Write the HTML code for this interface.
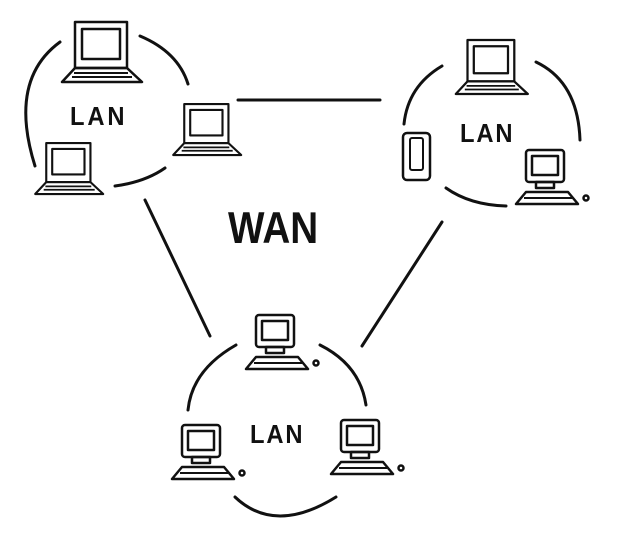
<!DOCTYPE html>
<html><head><style>
html,body{margin:0;padding:0;background:#fff;width:637px;height:536px;overflow:hidden}
text{font-family:"Liberation Sans",sans-serif;fill:#111;font-weight:bold}
</style></head><body>
<svg width="637" height="536" viewBox="0 0 637 536" xmlns="http://www.w3.org/2000/svg">
<defs>
<g id="lap" fill="none" stroke="#111" stroke-width="2.5" stroke-linejoin="round">
<rect x="5" y="0" width="52" height="46"/>
<rect x="12" y="7" width="38" height="30"/>
<polygon points="5,46 57,46 72,60 -8,60"/>
<path d="M4,51 H58 M2,55 H62" stroke-width="2"/>
</g>
<g id="desk" fill="none" stroke="#111" stroke-width="2.5" stroke-linejoin="round">
<rect x="4" y="0" width="38" height="32" rx="3"/>
<rect x="10" y="6" width="26" height="19"/>
<rect x="14" y="32" width="18" height="6"/>
<polygon points="4,42 46,42 56,54 -6,54"/>
<path d="M2,48 H50" stroke-width="2"/>
<circle cx="64" cy="48" r="2.5"/>
</g>
</defs>
<g fill="none" stroke="#111" stroke-width="3" stroke-linecap="round">
<path d="M60,42 Q8,80 35,166"/>
<path d="M140,36 Q178,52 188,84"/>
<path d="M115,186 Q145,182 165,168"/>
<path d="M442,66 Q408,86 404,124"/>
<path d="M536,62 Q578,82 580,140"/>
<path d="M446,188 Q470,205 506,206"/>
<path d="M238,100 L380,100"/>
<path d="M145,200 L210,336"/>
<path d="M442,222 L362,346"/>
<path d="M236,345 Q192,370 188,410"/>
<path d="M320,345 Q360,365 366,405"/>
<path d="M235,497 Q275,535 336,497"/>
</g>
<use href="#lap" transform="translate(70,22)"/>
<use href="#lap" transform="translate(180,104) scale(0.85)"/>
<use href="#lap" transform="translate(42,143) scale(0.85)"/>
<use href="#lap" transform="translate(463,40) scale(0.9)"/>
<rect x="403" y="133" width="27" height="47" rx="4" fill="none" stroke="#111" stroke-width="2.5"/>
<rect x="410" y="138" width="13" height="32" rx="2" fill="none" stroke="#111" stroke-width="2"/>
<use href="#desk" transform="translate(522,150)"/>
<use href="#desk" transform="translate(252,315)"/>
<use href="#desk" transform="translate(178,425)"/>
<use href="#desk" transform="translate(337,420)"/>
<text x="70" y="125" font-size="25" letter-spacing="3" transform="translate(70,125) scale(0.95,1.05) translate(-70,-125)">LAN</text>
<text x="460" y="142" font-size="25" letter-spacing="2" transform="translate(460,142) scale(0.95,1.05) translate(-460,-142)">LAN</text>
<text x="250" y="443" font-size="25" letter-spacing="2" transform="translate(250,443) scale(0.95,1.05) translate(-250,-443)">LAN</text>
<text x="228" y="243" font-size="42" transform="translate(228,243) scale(0.92,1.05) translate(-228,-243)">WAN</text>
</svg>
</body></html>
